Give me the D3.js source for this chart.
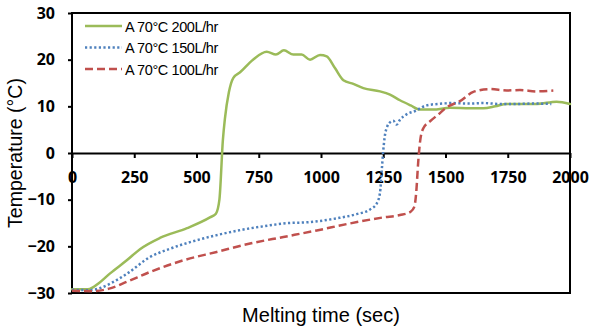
<!DOCTYPE html>
<html>
<head>
<meta charset="utf-8">
<script src="https://cdn.jsdelivr.net/npm/d3@7"></script>
<style>
  body { margin: 0; background: #fff; }
  svg { display: block; }
</style>
</head>
<body>
<div id="chart"></div>
<script>
// series: melting time (sec) / temperature (°C)
const time200 = [0, 64, 110, 153, 220, 273, 353, 462, 554, 578, 592, 606, 614, 630, 648, 675, 727, 782, 819, 851, 889, 922, 956, 996, 1023, 1056, 1090, 1130, 1170, 1237, 1277, 1317, 1360, 1398, 1450, 1518, 1600, 1652, 1700, 1746, 1800, 1866, 1946, 2000];
const temp200 = [-29.2, -29.2, -27.8, -25.8, -23, -20.6, -18.2, -16.1, -13.8, -13, -10, 2.8, 7.3, 13, 16.1, 17.3, 20, 21.7, 21.1, 22, 21.1, 21.1, 20, 21, 20.7, 18.2, 15.6, 14.8, 13.9, 13.2, 12.5, 11.3, 10.2, 9.3, 9.3, 9.7, 9.6, 9.6, 10, 10.5, 10.5, 10.5, 11, 10.5];

const time150 = [0, 72, 110, 153, 220, 313, 394, 474, 581, 688, 795, 849, 956, 1063, 1143, 1197, 1224, 1237, 1244, 1250, 1256, 1266, 1280, 1290, 1304, 1317, 1344, 1378, 1424, 1491, 1518, 1600, 1652, 1720, 1786, 1850, 1925];
const temp150 = [-29.3, -29.4, -29, -28, -25.9, -22.3, -20.5, -19.1, -17.6, -16.4, -15.5, -15.1, -14.8, -14, -13.1, -12.1, -10.8, -8.5, -3.7, 0.5, 3.5, 5.7, 6.7, 6.9, 6.1, 7.1, 8.3, 9.0, 10.2, 10.6, 10.7, 10.6, 10.7, 10.5, 10.5, 10.6, 10.5];

const time100 = [0, 86, 153, 220, 313, 447, 581, 715, 849, 983, 1116, 1250, 1317, 1360, 1375, 1382, 1391, 1398, 1411, 1438, 1470, 1505, 1558, 1612, 1679, 1746, 1799, 1866, 1933];
const temp100 = [-29.5, -29.6, -29, -27.6, -25.5, -23, -21.2, -19.4, -18, -16.6, -15.1, -13.8, -13.3, -12.6, -11.5, -8.7, -1.5, 2.5, 5.3, 6.8, 8.2, 9.8, 11.1, 13.1, 13.7, 13.4, 13.5, 13.2, 13.4];

const seriesNames = ['A 70°C 200L/hr', 'A 70°C 150L/hr', 'A 70°C 100L/hr'];
const xTicks = [0, 250, 500, 750, 1000, 1250, 1500, 1750, 2000];
const yTicks = [-30, -20, -10, 0, 10, 20, 30];

const width = 590, height = 334;
const margin = {top: 13, right: 20, bottom: 41, left: 72};

const svg = d3.select('#chart').append('svg')
    .attr('width', width)
    .attr('height', height);

const xScale = d3.scaleLinear().domain([0, 2000]).range([margin.left, width - margin.right]);
const yScale = d3.scaleLinear().domain([-30, 30]).range([height - margin.bottom, margin.top]);

const tickFont = '"Open Sans", sans-serif';

// y axis (left, ticks outside)
const yAxis = svg.append('g')
    .attr('transform', 'translate(' + margin.left + ',0)')
    .call(d3.axisLeft(yScale).tickValues(yTicks).tickSize(4).tickPadding(13).tickSizeOuter(0));
yAxis.select('.domain').remove();
yAxis.selectAll('line').attr('stroke', '#000').attr('stroke-width', 2);
yAxis.selectAll('text')
    .attr('font-family', tickFont).attr('font-weight', 'bold').attr('font-size', 16)
    .attr('fill', '#000');

// x axis sits on y = 0, ticks downward
const xAxis = svg.append('g')
    .attr('transform', 'translate(0,' + yScale(0) + ')')
    .call(d3.axisBottom(xScale).tickValues(xTicks).tickFormat(d3.format('d'))
        .tickSize(5).tickPadding(14).tickSizeOuter(0));
xAxis.select('.domain').attr('stroke', '#000').attr('stroke-width', 2);
xAxis.selectAll('line').attr('stroke', '#000').attr('stroke-width', 2);
xAxis.selectAll('text')
    .attr('font-family', tickFont).attr('font-weight', 'bold').attr('font-size', 16)
    .attr('fill', '#000');

// frame
svg.append('rect')
    .attr('x', margin.left)
    .attr('y', margin.top)
    .attr('width', width - margin.left - margin.right)
    .attr('height', height - margin.top - margin.bottom)
    .attr('fill', 'none')
    .attr('stroke', '#000')
    .attr('stroke-width', 2);

// lines
const line = d3.line()
    .x(d => xScale(d[0]))
    .y(d => yScale(d[1]))
    .curve(d3.curveMonotoneX);

const styles = [
    {color: '#9BBB59', dash: null, cap: 'round'},
    {color: '#4F81BD', dash: '2.2,2.4', cap: 'butt'},
    {color: '#C0504D', dash: '8,4', cap: 'butt'}
];

const seriesData = [
    d3.zip(time200, temp200),
    d3.zip(time150, temp150),
    d3.zip(time100, temp100)
];

const plot = svg.append('g');
seriesData.forEach((data, i) => {
    plot.append('path')
        .datum(data)
        .attr('fill', 'none')
        .attr('stroke', styles[i].color)
        .attr('stroke-width', 2.5)
        .attr('stroke-linecap', styles[i].cap)
        .attr('stroke-dasharray', styles[i].dash)
        .attr('d', line);
});

// legend
const legend = svg.append('g');
seriesNames.forEach((name, i) => {
    const y = 26 + i * 21.5;
    legend.append('line')
        .attr('x1', 85).attr('x2', 122)
        .attr('y1', y).attr('y2', y)
        .attr('stroke', styles[i].color)
        .attr('stroke-width', 2.5)
        .attr('stroke-dasharray', styles[i].dash);
    legend.append('text')
        .attr('x', 125).attr('y', y + 5.5)
        .attr('font-family', '"Liberation Sans", Arial, sans-serif')
        .attr('font-size', 14.5)
        .attr('letter-spacing', -0.4)
        .text(name);
});

// axis titles
svg.append('text')
    .attr('transform', 'translate(22,' + (margin.top + (height - margin.top - margin.bottom) / 2) + ') rotate(-90)')
    .attr('text-anchor', 'middle')
    .attr('font-family', '"Liberation Sans", Arial, sans-serif')
    .attr('font-size', 19.5)
    .text('Temperature (°C)');

svg.append('text')
    .attr('x', (margin.left + width - margin.right) / 2)
    .attr('y', 322)
    .attr('text-anchor', 'middle')
    .attr('font-family', '"Liberation Sans", Arial, sans-serif')
    .attr('font-size', 20)
    .text('Melting time (sec)');
</script>
</body>
</html>
